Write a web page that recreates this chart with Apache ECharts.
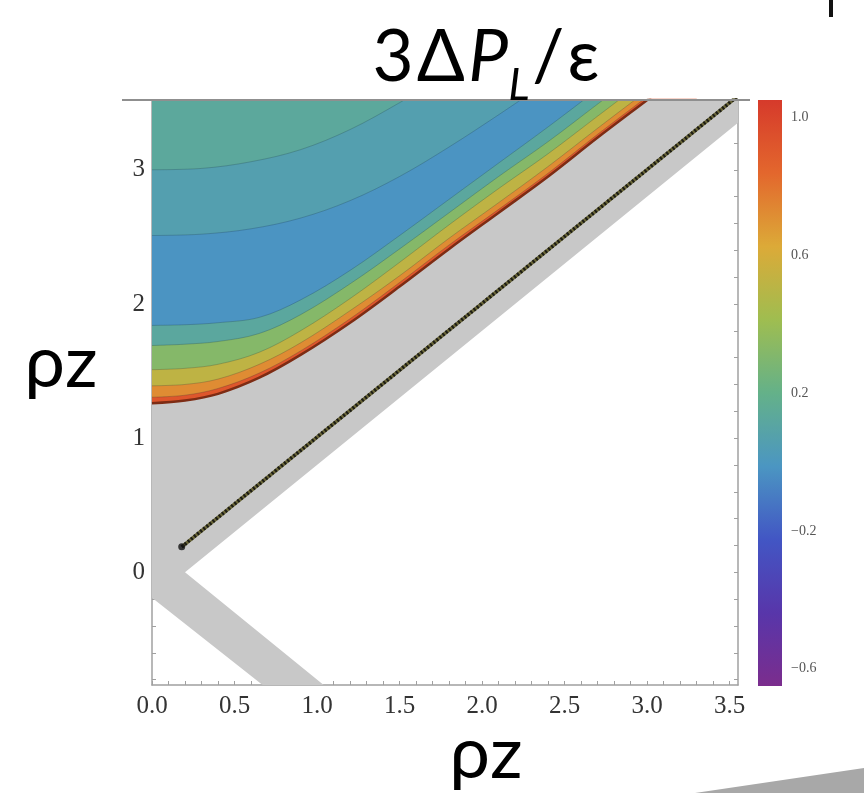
<!DOCTYPE html>
<html><head><meta charset="utf-8">
<script src="https://cdn.jsdelivr.net/npm/echarts@6/dist/echarts.min.js"></script>
<style>html,body{margin:0;padding:0;background:#fff}#c{width:864px;height:793px}</style>
</head><body><div id="c"></div>
<script>
// ---- axes / ticks ----
const xRange = [0, 3.55];
const yRange = [-0.84, 3.52];
const xTickLabels = [0, 0.5, 1, 1.5, 2, 2.5, 3, 3.5];
const yTickLabels = [0, 1, 2, 3];
const cbRange = [-0.65, 1.05];
const cbTickLabels = [-0.6, -0.2, 0.2, 0.6, 1.0];

// ---- gray band region (x, y) ----
const grayRegion = [[0, 3.7], [0, -0.19], [0.835, -1.0], [1.2, -1.0], [0.2, 0.0], [3.9, 3.7]];
// ---- diagonal dotted line ----
const diagLine = [[0.18, 0.19], [3.7, 3.7]];

// ---- contour curves, from the lower edge upward ----
const curveB  = [[0,1.26],[0.2,1.28],[0.4,1.33],[0.65,1.45],[0.9,1.62],[1.2,1.86],[1.5,2.13],[1.8,2.41],[2.1,2.68],[2.4,2.95],[2.7,3.24],[3.0,3.52],[3.3,3.80]];
const curveL2 = [[0,1.305],[0.2,1.32],[0.4,1.37],[0.65,1.485],[0.9,1.65],[1.2,1.89],[1.5,2.16],[1.8,2.44],[2.1,2.705],[2.4,2.975],[2.7,3.265],[3.0,3.545],[3.3,3.83]];
const curveL3 = [[0,1.39],[0.2,1.40],[0.4,1.44],[0.65,1.55],[0.9,1.71],[1.2,1.95],[1.5,2.21],[1.8,2.49],[2.1,2.755],[2.4,3.025],[2.7,3.31],[3.0,3.59]];
const curveL4 = [[0,1.51],[0.2,1.52],[0.4,1.55],[0.65,1.64],[0.9,1.80],[1.2,2.04],[1.5,2.31],[1.8,2.59],[2.1,2.86],[2.4,3.12],[2.7,3.40],[3.0,3.68]];
const curveL5 = [[0,1.69],[0.2,1.70],[0.4,1.72],[0.65,1.78],[0.9,1.92],[1.2,2.15],[1.5,2.41],[1.8,2.68],[2.1,2.95],[2.4,3.21],[2.7,3.49],[3.0,3.77]];
const curveL6 = [[0,1.84],[0.2,1.845],[0.4,1.86],[0.65,1.90],[0.9,2.03],[1.2,2.25],[1.5,2.51],[1.8,2.78],[2.1,3.05],[2.4,3.32],[2.7,3.60]];
const curveU2 = [[0,2.51],[0.3,2.52],[0.6,2.56],[0.9,2.64],[1.2,2.77],[1.5,2.95],[1.8,3.17],[2.1,3.41],[2.4,3.66]];
const curveU3 = [[0,3.0],[0.3,3.01],[0.6,3.06],[0.9,3.15],[1.2,3.30],[1.5,3.50],[1.8,3.72]];
// value of the band lying above each curve
const bandLevels = [0.92, 0.72, 0.52, 0.32, 0.12, -0.02, 0.06, 0.13];

// ---- styles ----
const cbColors = ['#7b2d8d','#5836aa','#4256c4','#4b96c2','#64b189','#9fbd50','#dcaa38','#e3672d','#d63a2b'];
const serif = 'Liberation Serif';
const curves = [curveB, curveL2, curveL3, curveL4, curveL5, curveL6, curveU2, curveU3];

function bandColor(v) {
  return echarts.color.lerp((v - cbRange[0]) / (cbRange[1] - cbRange[0]), cbColors);
}
const xMinor = []; for (let i = 0; i <= 35; i++) xMinor.push(+(i * 0.1).toFixed(2));
const yMinor = []; for (let i = -4; i <= 17; i++) yMinor.push(+(i * 0.2).toFixed(2));

const bandSeries = curves.map((c, i) => ({
  type: 'line', xAxisIndex: 0, yAxisIndex: 0, data: c, smooth: 0.35,
  showSymbol: false, symbol: 'none', silent: true, z: 2,
  lineStyle: i === 0 ? {color: '#7d2c14', width: 2.5} : {color: 'rgba(20,40,60,0.22)', width: 1},
  areaStyle: {origin: 'end', color: bandColor(bandLevels[i]), opacity: 1}
}));

const frameLine = {show: true, onZero: false, lineStyle: {color: '#a0a0a0', width: 1.5}};
const tick = (vals) => ({show: true, inside: true, length: 4, customValues: vals, lineStyle: {color: '#a0a0a0'}});
const glyph = {fontSize: 71, fontFamily: 'Lato', fill: '#000', lineHeight: 100, padding: [0, 1.5, 0, 1.5]};

const chart = echarts.init(document.getElementById('c'), null, {renderer: 'canvas'});
chart.setOption({
  animation: false,
  backgroundColor: '#fff',
  grid: [
    {left: 152, top: 100, right: 126, bottom: 108},
    {left: 758, top: 100, width: 24, height: 586}
  ],
  xAxis: [
    {type: 'value', gridIndex: 0, min: xRange[0], max: xRange[1], position: 'bottom',
     axisLine: frameLine, axisTick: tick(xMinor),
     axisLabel: {customValues: xTickLabels, formatter: v => v.toFixed(1), fontFamily: serif, fontSize: 25, color: '#333', margin: 9},
     splitLine: {show: false}},
    {type: 'value', gridIndex: 0, min: xRange[0], max: xRange[1], position: 'top',
     axisLine: {show: true, onZero: false, lineStyle: {color: '#8f8f8f', width: 2}}, axisTick: tick(xMinor),
     axisLabel: {show: false}, splitLine: {show: false}},
    {type: 'value', gridIndex: 1, min: 0, max: 1, show: false}
  ],
  yAxis: [
    {type: 'value', gridIndex: 0, min: yRange[0], max: yRange[1], position: 'left',
     axisLine: frameLine, axisTick: tick(yMinor),
     axisLabel: {customValues: yTickLabels, formatter: v => String(v), fontFamily: serif, fontSize: 25, color: '#333', margin: 7},
     splitLine: {show: false}},
    {type: 'value', gridIndex: 0, min: yRange[0], max: yRange[1], position: 'right',
     axisLine: frameLine, axisTick: tick(yMinor),
     axisLabel: {show: false}, splitLine: {show: false}},
    {type: 'value', gridIndex: 1, min: cbRange[0], max: cbRange[1], position: 'right',
     axisLine: {show: false}, axisTick: {show: false}, splitLine: {show: false},
     axisLabel: {customValues: cbTickLabels, formatter: v => (v < 0 ? '\u2212' : '') + Math.abs(v).toFixed(1),
       fontFamily: serif, fontSize: 14, color: '#555', margin: 9}}
  ],
  series: [
    {type: 'custom', xAxisIndex: 0, yAxisIndex: 0, clip: true, z: 1, silent: true,
     data: grayRegion,
     renderItem: function (params, api) {
       if (params.dataIndex !== 0) return;
       const pts = grayRegion.map(p => api.coord(p));
       return {type: 'polygon', shape: {points: pts}, style: {fill: '#c8c8c8'}};
     }},
    ...bandSeries,
    {type: 'line', xAxisIndex: 0, yAxisIndex: 0, data: diagLine, symbol: 'none', z: 3, silent: true,
     lineStyle: {color: '#6a6638', width: 3.5}},
    {type: 'line', xAxisIndex: 0, yAxisIndex: 0, data: diagLine, symbol: 'none', z: 4, silent: true,
     lineStyle: {color: '#1c1c14', width: 3.5, type: [2, 2]}},
    {type: 'scatter', xAxisIndex: 0, yAxisIndex: 0, data: [diagLine[0]], symbolSize: 7, z: 5, silent: true,
     itemStyle: {color: '#111'}},
    {type: 'custom', xAxisIndex: 2, yAxisIndex: 2, z: 2, silent: true,
     data: [[0, cbRange[0]], [1, cbRange[1]]],
     renderItem: function (params, api) {
       if (params.dataIndex !== 0) return;
       const p0 = api.coord([0, cbRange[0]]);
       const p1 = api.coord([1, cbRange[1]]);
       const stops = cbColors.map((c, i) => ({offset: 1 - i / (cbColors.length - 1), color: c})).reverse();
       return {type: 'rect', shape: {x: p0[0], y: p1[1], width: p1[0] - p0[0], height: p0[1] - p1[1]},
         style: {fill: new echarts.graphic.LinearGradient(0, 0, 0, 1, stops)}};
     }}
  ],
  graphic: [
    {type: 'line', shape: {x1: 122, y1: 100, x2: 750, y2: 100}, style: {stroke: '#8f8f8f', lineWidth: 2}, z: 50},
    {type: 'text', x: 486, y: 58, z: 50, style: {
      text: '{a|3}{a|\u0394}{b|P}{c|L}{a|/}{a|\u03b5}', align: 'center', verticalAlign: 'middle',
      rich: {
        a: glyph,
        b: Object.assign({}, glyph, {fontStyle: 'italic', padding: [0, 0, 0, 2]}),
        c: Object.assign({}, glyph, {fontSize: 45, fontStyle: 'italic', padding: [54, 1, 0, 0]})
      }}},
    {type: 'text', x: 61, y: 364, z: 50, style: {text: '\u03c1z', fontSize: 72, fontFamily: 'Lato', fill: '#000', align: 'center', verticalAlign: 'middle'}},
    {type: 'text', x: 486, y: 755, z: 50, style: {text: '\u03c1z', fontSize: 72, fontFamily: 'Lato', fill: '#000', align: 'center', verticalAlign: 'middle'}},
    {type: 'rect', shape: {x: 829, y: 0, width: 4, height: 17}, style: {fill: '#111'}, z: 50},
    {type: 'polygon', shape: {points: [[695, 793], [864, 768], [864, 793]]}, style: {fill: '#a8a8a8'}, z: 50}
  ]
});
</script></body></html>
